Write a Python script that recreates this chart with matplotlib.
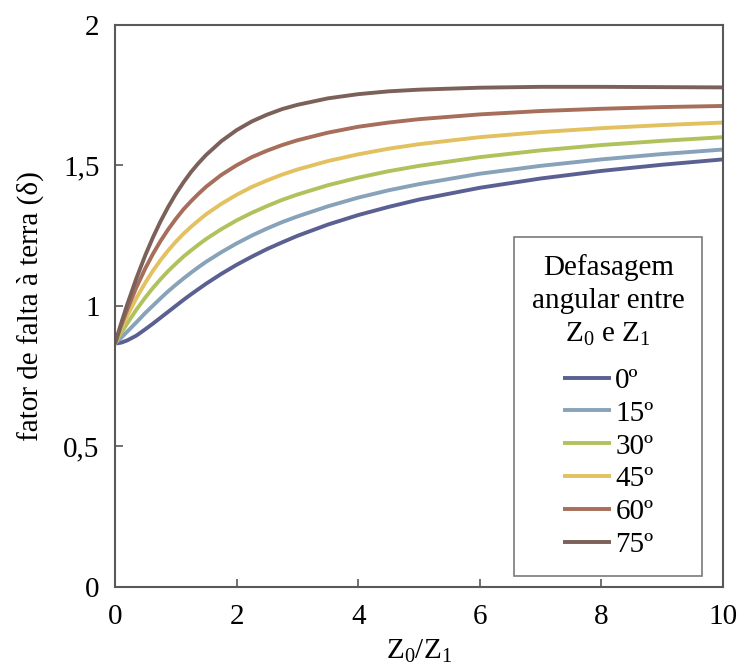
import matplotlib
matplotlib.use("Agg")
import matplotlib.pyplot as plt

plt.rcParams['font.family'] = ['Liberation Serif', 'DejaVu Serif']
plt.rcParams['mathtext.fontset'] = 'custom'
plt.rcParams['mathtext.rm'] = 'Liberation Serif'
plt.rcParams['mathtext.it'] = 'Liberation Serif:italic'

# Z0/Z1 sample points
x = [0, 0.1, 0.2, 0.35, 0.5, 0.625, 0.75, 0.875, 1, 1.125, 1.25, 1.375, 1.5, 1.75,
     2, 2.25, 2.5, 2.75, 3, 3.5, 4, 4.5, 5, 6, 7, 8, 9, 10]

# earth fault factor for each angle between Z0 and Z1
d_0 = [0.866, 0.869, 0.877, 0.894, 0.917, 0.937, 0.958, 0.979, 1.000, 1.021, 1.041, 1.060,
       1.079, 1.114, 1.146, 1.175, 1.202, 1.226, 1.249, 1.289, 1.323, 1.352, 1.378, 1.420,
       1.453, 1.480, 1.502, 1.521]
d_15 = [0.866, 0.886, 0.908, 0.941, 0.975, 1.001, 1.027, 1.052, 1.075, 1.097, 1.118, 1.138,
        1.157, 1.191, 1.222, 1.250, 1.275, 1.298, 1.318, 1.354, 1.385, 1.411, 1.433, 1.470,
        1.498, 1.521, 1.540, 1.556]
d_30 = [0.866, 0.903, 0.937, 0.986, 1.030, 1.064, 1.095, 1.124, 1.150, 1.175, 1.197, 1.218,
        1.238, 1.273, 1.304, 1.331, 1.355, 1.377, 1.396, 1.429, 1.456, 1.479, 1.498, 1.529,
        1.553, 1.572, 1.587, 1.600]
d_45 = [0.866, 0.917, 0.964, 1.027, 1.083, 1.125, 1.163, 1.197, 1.228, 1.256, 1.281, 1.304,
        1.326, 1.363, 1.395, 1.423, 1.446, 1.467, 1.485, 1.515, 1.539, 1.559, 1.575, 1.600,
        1.618, 1.632, 1.643, 1.652]
d_60 = [0.866, 0.929, 0.986, 1.065, 1.134, 1.185, 1.231, 1.272, 1.309, 1.343, 1.372, 1.399,
        1.424, 1.466, 1.500, 1.529, 1.552, 1.572, 1.589, 1.616, 1.637, 1.652, 1.664, 1.681,
        1.693, 1.701, 1.707, 1.711]
d_75 = [0.866, 0.937, 1.004, 1.097, 1.181, 1.244, 1.301, 1.352, 1.398, 1.439, 1.476, 1.508,
        1.537, 1.586, 1.625, 1.656, 1.680, 1.700, 1.715, 1.738, 1.753, 1.763, 1.769, 1.776,
        1.779, 1.779, 1.778, 1.777]

series = [d_0, d_15, d_30, d_45, d_60, d_75]
labels = ['0º', '15º', '30º', '45º', '60º', '75º']
colors = ['#5a6192', '#87a2b9', '#afc25c', '#e3c160', '#a66e5b', '#7b6159']

yticks = [0, 0.5, 1, 1.5, 2]
ytick_labels = ['0', '0,5', '1', '1,5', '2']
xticks = [0, 2, 4, 6, 8, 10]

fig = plt.figure(figsize=(7.39, 6.66), dpi=100)
ax = fig.add_axes([0.1556, 0.1186, 0.8228, 0.8443])

for vals, lab, col in zip(series, labels, colors):
    ax.plot(x, vals, color=col, lw=2.8, label=lab, solid_capstyle='butt',
            solid_joinstyle='round')

ax.set_xlim(0, 10)
ax.set_ylim(0, 2)
ax.set_xticks(xticks)
ax.set_xticklabels([str(t) for t in xticks])
ax.set_yticks(yticks)
ax.set_yticklabels(ytick_labels)
ax.tick_params(direction='in', length=6, width=1.2, color='#595959',
               labelsize=21, top=False, right=False)
ax.tick_params(axis='x', pad=12)
ax.tick_params(axis='y', pad=11)
for s in ax.spines.values():
    s.set_color('#595959')
    s.set_linewidth(1.5)

ax.set_xlabel(r'$\mathregular{Z_0/Z_1}$', fontsize=21, labelpad=6)
ax.set_ylabel('fator de falta à terra (δ)', fontsize=21, labelpad=14)

leg = ax.legend(loc='upper right', bbox_to_anchor=(0.9655, 0.6228), borderaxespad=0,
                title='Defasagem\nangular entre\n' + r'$\mathregular{Z_0}$ e $\mathregular{Z_1}$',
                fontsize=21, title_fontsize=21, frameon=True, fancybox=False,
                handlelength=1.65, handletextpad=0.15, labelspacing=0.22,
                borderpad=0.6, alignment='center')
leg.get_frame().set_edgecolor('#595959')
leg.get_frame().set_linewidth(1.2)
leg.get_title().set_linespacing(1.33)
leg.get_title().set_multialignment('center')
leg._legend_box.sep = 14

fig.savefig('out.png', dpi=100)
